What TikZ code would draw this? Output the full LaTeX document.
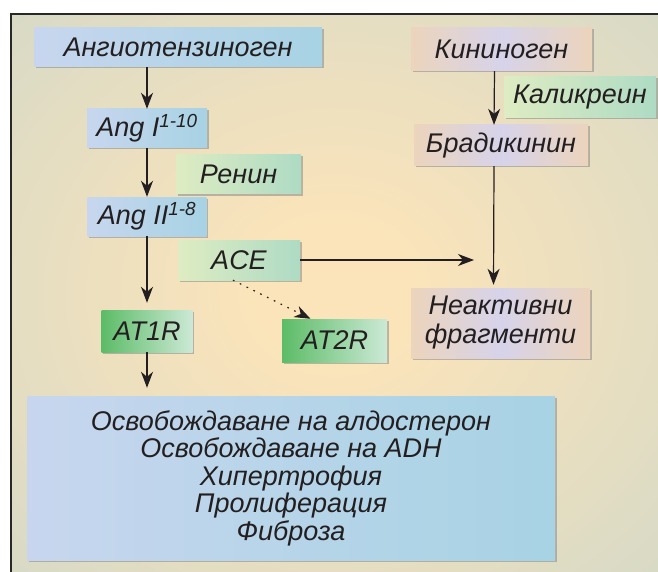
\documentclass[tikz,border=0pt]{standalone}
\usepackage{xcolor}
\usepackage{fontspec}
\setmainfont{Liberation Sans}
\usetikzlibrary{shapes, arrows.meta, shadows}

\definecolor{bgin}{RGB}{251,228,186}
\definecolor{bgout}{RGB}{199,213,204}
\definecolor{frame}{RGB}{40,40,40}
\definecolor{txt}{RGB}{35,31,32}
\definecolor{angl}{RGB}{199,214,238}
\definecolor{angr}{RGB}{167,211,228}
\definecolor{enzl}{RGB}{222,236,194}
\definecolor{enzr}{RGB}{174,219,196}
\definecolor{recl}{RGB}{92,188,103}
\definecolor{recr}{RGB}{204,233,214}
\definecolor{kinl}{RGB}{236,212,188}
\definecolor{kinm}{RGB}{214,211,234}

\pgfdeclareradialshading{bgshade}{\pgfpoint{0bp}{0bp}}{%
  color(0bp)=(bgin); color(6bp)=(bgin); color(50bp)=(bgout); color(80bp)=(bgout)}

\begin{document}
\begin{tikzpicture}[x=1pt,y=-1pt,>={Stealth[length=16pt,width=12pt,inset=5pt]},
      box/.style={rectangle,inner sep=0pt,align=center,text=txt,
        font=\fontsize{27}{29}\selectfont\itshape,
        drop shadow={shadow xshift=1.5pt,shadow yshift=-1.5pt,opacity=0.5}},
      ang node/.style={box,left color=angl,right color=angr},
      enz node/.style={box,left color=enzl,right color=enzr},
      rec node/.style={box,left color=recl,right color=recr},
      kin node/.style={box,left color=kinl,right color=kinl,middle color=kinm},
      link/.style={->,draw=txt,line width=1.2pt}]

    \useasboundingbox (0,0) rectangle (658,572);
    \shade[shading=bgshade] (11,14) rectangle (658,572);
    \draw[line width=1.2pt,draw=frame] (11,572) -- (11,14) -- (658,14);

    % renin-angiotensin side
    \node[ang node,minimum width=288pt,minimum height=39pt] (angtg) at (178,47.5) {Ангиотензиноген};
    \node[ang node,minimum width=120pt,minimum height=39pt] (ang1) at (147,128.5) {Ang I\textsuperscript{1-10}};
    \node[enz node,minimum width=125pt,minimum height=39pt] (renin) at (238.5,174.5) {Ренин};
    \node[ang node,minimum width=119pt,minimum height=39pt] (ang2) at (147,216.5) {Ang II\textsuperscript{1-8}};
    \node[enz node,minimum width=122pt,minimum height=40pt] (ace) at (239,260) {ACE};
    \node[rec node,minimum width=91pt,minimum height=42pt] (at1r) at (147,331) {AT1R};
    \node[rec node,minimum width=105pt,minimum height=43pt] (at2r) at (334.5,340.5) {AT2R};

    % kinin side
    \node[kin node,minimum width=181pt,minimum height=43pt] (kng) at (501.5,49.5) {Кининоген};
    \node[enz node,minimum width=152pt,minimum height=41pt] (kal) at (580,97.5) {Каликреин};
    \node[kin node,minimum width=174pt,minimum height=41pt] (brad) at (501,145.5) {Брадикинин};
    \node[kin node,minimum width=179pt,minimum height=70pt] (inact) at (500.5,323) {Неактивни\\фрагменти};
    \coordinate (acetip) at (474,260);

    \node[ang node,minimum width=528pt,minimum height=164pt,
          font=\fontsize{27}{27.5}\selectfont\itshape] (effects) at (291,478)
          {Освобождаване на алдостерон\\Освобождаване на ADH\\Хипертрофия\\Пролиферация\\Фиброза};

    \path[every edge/.style={link}]
        (ang1 |- angtg.south) edge (ang1)
        (ang1) edge (ang2)
        (ang2) edge[shorten >=7pt] (at1r)
        (at1r) edge[shorten >=8pt] (at1r |- effects.north)
        ([xshift=-7pt]kng.south) edge ([xshift=-7pt]brad.north)
        ([xshift=-7pt]brad.south) edge[shorten >=3pt] ([xshift=-7pt]inact.north)
        (ace.east) edge (acetip)
    ;
    \draw[link,dash pattern=on 1.6pt off 6pt] ([xshift=-6pt]ace.south) -- ([xshift=-24pt]at2r.north);
\end{tikzpicture}
\end{document}
